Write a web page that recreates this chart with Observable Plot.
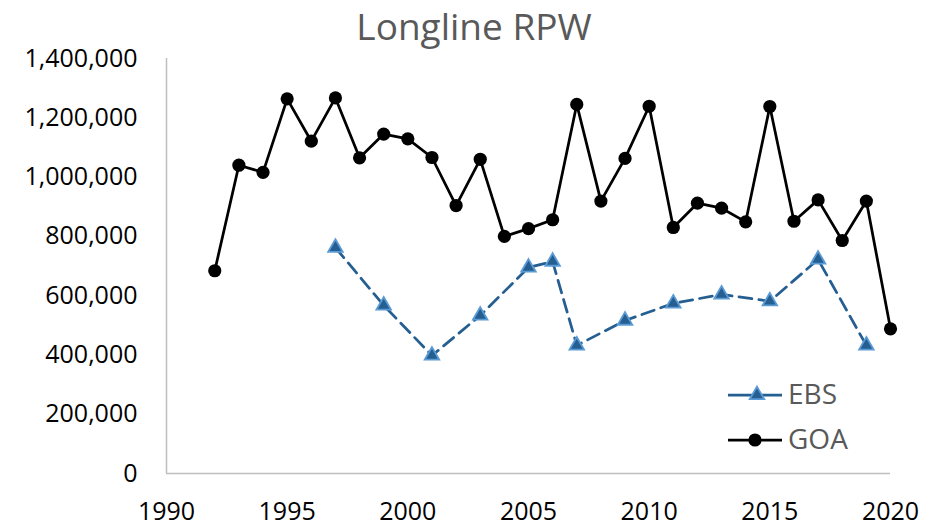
<!DOCTYPE html>
<html>
<head>
<meta charset="utf-8">
<script src="https://cdn.jsdelivr.net/npm/d3@7"></script>
<script src="https://cdn.jsdelivr.net/npm/@observablehq/plot@0.6"></script>
<style>
  html, body { margin: 0; padding: 0; background: #fff; }
  #wrap { position: relative; width: 932px; height: 527px; font-family: "Open Sans", sans-serif; }
  #title { position: absolute; left: 0; top: 0; width: 932px; box-sizing: border-box; padding-left: 16px; text-align: center; font-size: 37px; line-height: normal; color: #595959; }
  #legend { position: absolute; left: 720px; top: 374px; }
  .lg { position: absolute; font-size: 28px; color: #595959; line-height: 1.25; white-space: nowrap; }
</style>
</head>
<body>
<div id="wrap">
  <div id="chart"></div>
  <div id="title">Longline RPW</div>
  <div id="legend"></div>
</div>
<script>
const goaYears = [1992, 1993, 1994, 1995, 1996, 1997, 1998, 1999, 2000, 2001, 2002, 2003, 2004, 2005, 2006, 2007, 2008, 2009, 2010, 2011, 2012, 2013, 2014, 2015, 2016, 2017, 2018, 2019, 2020];
const goaValues = [684000, 1040000, 1016000, 1264000, 1121000, 1267000, 1065000, 1145000, 1129000, 1066000, 904000, 1060000, 800000, 826000, 856000, 1245000, 919000, 1063000, 1239000, 830000, 912000, 895000, 849000, 1238000, 851000, 923000, 786000, 919000, 488000];
const ebsYears = [1997, 1999, 2001, 2003, 2005, 2006, 2007, 2009, 2011, 2013, 2015, 2017, 2019];
const ebsValues = [762000, 567000, 398000, 533000, 695000, 715000, 432000, 516000, 574000, 604000, 581000, 722000, 432000];
const xTicks = [1990, 1995, 2000, 2005, 2010, 2015, 2020];
const yTicks = [0, 200000, 400000, 600000, 800000, 1000000, 1200000, 1400000];
const seriesNames = ["EBS", "GOA"];

const goa = goaYears.map((year, i) => ({year, value: goaValues[i]}));
const ebs = ebsYears.map((year, i) => ({year, value: ebsValues[i]}));

const EBS_LINE = "#255e91";
const EBS_EDGE = "#5b9bd5";

const chart = Plot.plot({
  width: 932,
  height: 527,
  marginTop: 58,
  marginBottom: 54,
  marginLeft: 166,
  marginRight: 42,
  style: { fontFamily: "Open Sans, sans-serif", fontSize: "25px", color: "#000", background: "#fff" },
  x: { domain: [1990, 2020] },
  y: { domain: [0, 1400000] },
  marks: [
    Plot.axisX({ ticks: xTicks, tickFormat: d => String(d), tickSize: 0, tickPadding: 29, label: null, fill: "#000" }),
    Plot.axisY({ ticks: yTicks, tickFormat: d3.format(","), tickSize: 0, tickPadding: 29, label: null, fill: "#000" }),
    Plot.ruleX([xTicks[0]], { y1: yTicks[0], y2: yTicks[yTicks.length - 1], stroke: "#bfbfbf", strokeWidth: 1.5 }),
    Plot.ruleY([yTicks[0]], { stroke: "#bfbfbf", strokeWidth: 1.5 }),
    Plot.line(ebs, { x: "year", y: "value", stroke: EBS_LINE, strokeWidth: 2.75, strokeDasharray: "13,7" }),
    Plot.dot(ebs, { x: "year", y: "value", symbol: "triangle", r: 5.4, fill: EBS_LINE, stroke: EBS_EDGE, strokeWidth: 1.8 }),
    Plot.line(goa, { x: "year", y: "value", stroke: "#000", strokeWidth: 2.75 }),
    Plot.dot(goa, { x: "year", y: "value", r: 6.6, fill: "#000" })
  ]
});
document.getElementById("chart").appendChild(chart);

// Legend
const legend = document.getElementById("legend");
const lsvg = d3.create("svg").attr("width", 70).attr("height", 90).style("position", "absolute").style("left", "0px").style("top", "0px");
lsvg.append("line").attr("x1", 8).attr("x2", 62).attr("y1", 21).attr("y2", 21).attr("stroke", EBS_LINE).attr("stroke-width", 2.75);
lsvg.append("path").attr("d", d3.symbol(d3.symbolTriangle, Math.PI * 5.4 * 5.4)()).attr("transform", "translate(37,21)").attr("fill", EBS_LINE).attr("stroke", EBS_EDGE).attr("stroke-width", 1.8);
lsvg.append("line").attr("x1", 8).attr("x2", 62).attr("y1", 66).attr("y2", 66).attr("stroke", "#000").attr("stroke-width", 2.75);
lsvg.append("circle").attr("cx", 35).attr("cy", 66).attr("r", 6.6).attr("fill", "#000");
legend.appendChild(lsvg.node());
seriesNames.forEach((name, i) => {
  const d = document.createElement("div");
  d.className = "lg";
  d.textContent = name;
  d.style.left = "68px";
  d.style.top = (i === 0 ? 2 : 47) + "px";
  legend.appendChild(d);
});
</script>
</body>
</html>
